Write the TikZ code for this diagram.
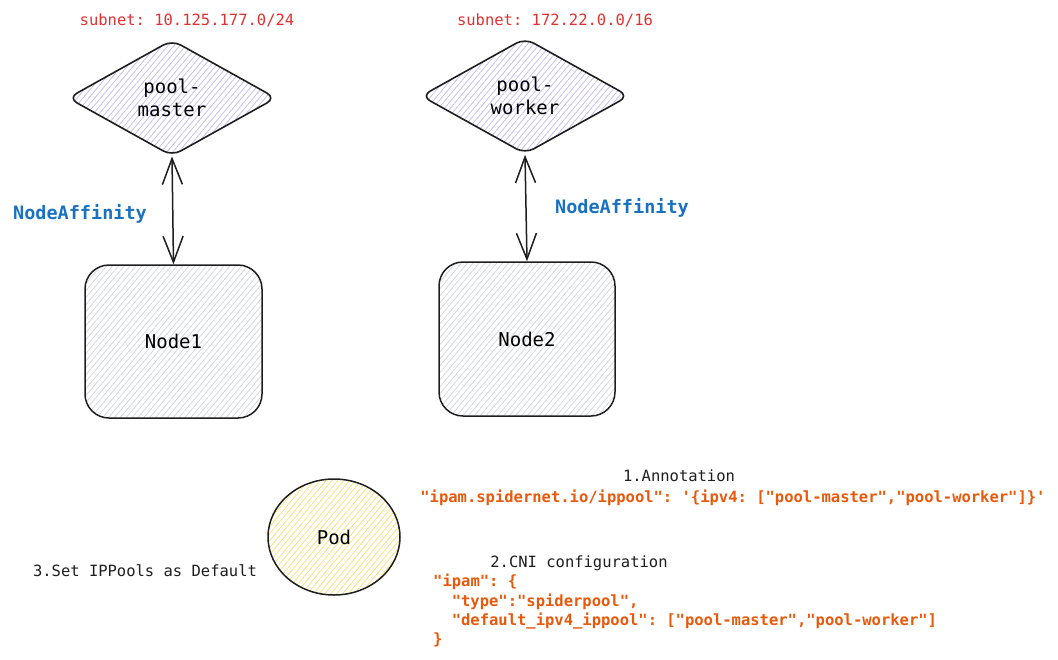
\documentclass[tikz,border=0pt]{standalone}
\usepackage{fontspec}
\setmonofont{DejaVu Sans Mono}
\usetikzlibrary{shapes.geometric,arrows.meta,patterns.meta}
\definecolor{ink}{HTML}{1E1E1E}
\definecolor{subred}{HTML}{E03131}
\definecolor{affblue}{HTML}{1971C2}
\definecolor{codeorange}{HTML}{E8590C}
\definecolor{lavhatch}{HTML}{C9BEF5}
\definecolor{grayhatch}{HTML}{D5D8DC}
\definecolor{yelhatch}{HTML}{FFE07A}
\begin{document}
\begin{tikzpicture}[x=1pt,y=-1pt,
  txt/.style={font=\ttfamily\fontsize{15.5}{19}\selectfont, inner sep=0pt},
  poolshape/.style={diamond, draw=ink, line width=1.6pt, rounded corners=10pt,
    minimum width=208pt, minimum height=116pt, aspect=1.8, inner sep=0pt,
    pattern={Lines[angle=50,distance=4.5pt,line width=0.8pt]}, pattern color=lavhatch,
    font=\ttfamily\fontsize{19}{23}\selectfont, align=center},
  k8snode/.style={rectangle, draw=ink, line width=1.5pt, rounded corners=24pt,
    minimum width=177pt, minimum height=153pt,
    pattern={Lines[angle=50,distance=4.5pt,line width=0.8pt]}, pattern color=grayhatch,
    font=\ttfamily\fontsize{19}{23}\selectfont},
  podshape/.style={ellipse, draw=ink, line width=1.5pt, minimum width=132pt, minimum height=116pt,
    pattern={Lines[angle=50,distance=4.5pt,line width=0.8pt]}, pattern color=yelhatch,
    font=\ttfamily\fontsize{19}{23}\selectfont},
  affarrow/.style={draw=ink, line width=1.5pt,
    {Straight Barb[length=26pt,width=20pt,line width=1.5pt]}-{Straight Barb[length=26pt,width=20pt,line width=1.5pt]}},
  afflabel/.style={font=\ttfamily\bfseries\fontsize{18.5}{22}\selectfont, text=affblue, inner sep=0pt},
  sublabel/.style={txt, text=subred},
  codetxt/.style={txt, text=codeorange, font=\ttfamily\bfseries\fontsize{15.5}{19.3}\selectfont, align=left}
]
\useasboundingbox (0,0) rectangle (1058,659);

% subnets
\node[sublabel] (sub1) at (187,20) {subnet: 10.125.177.0/24};
\node[sublabel] (sub2) at (555,20) {subnet: 172.22.0.0/16};

% pools
\node[poolshape] (pm) at (172,98) {pool-\\master};
\node[poolshape] (pw) at (525,96) {pool-\\worker};

% nodes
\node[k8snode] (n1) at (173.5,341.5) {Node1};
\node[k8snode, minimum width=176pt, minimum height=154pt] (n2) at (527,339) {Node2};

% arrows
\draw[affarrow] (pm.south) -- (n1.north);
\draw[affarrow] (pw.south) -- (n2.north);
\node[afflabel] (aff1) at (80,214) {NodeAffinity};
\node[afflabel] (aff2) at (622,208) {NodeAffinity};

% pod
\node[podshape] (pod) at (334,537) {Pod};
\node[txt, text=ink] (setdef) at (145,571) {3.Set IPPools as Default};

% annotation
\node[txt, text=ink] (ann) at (679,476) {1.Annotation};
\node[codetxt] (annval) at (733,498) {"ipam.spidernet.io/ippool": '\{ipv4: ["pool-master","pool-worker"]\}'};

% CNI configuration
\node[txt, text=ink] (cni) at (579,563) {2.CNI configuration};
\node[codetxt, anchor=north west] (cnival) at (433,574) {"ipam": \{\\
\hspace*{18.6pt}"type":"spiderpool",\\
\hspace*{18.6pt}"default\_ipv4\_ippool": ["pool-master","pool-worker"]\\
\}};
\end{tikzpicture}
\end{document}
